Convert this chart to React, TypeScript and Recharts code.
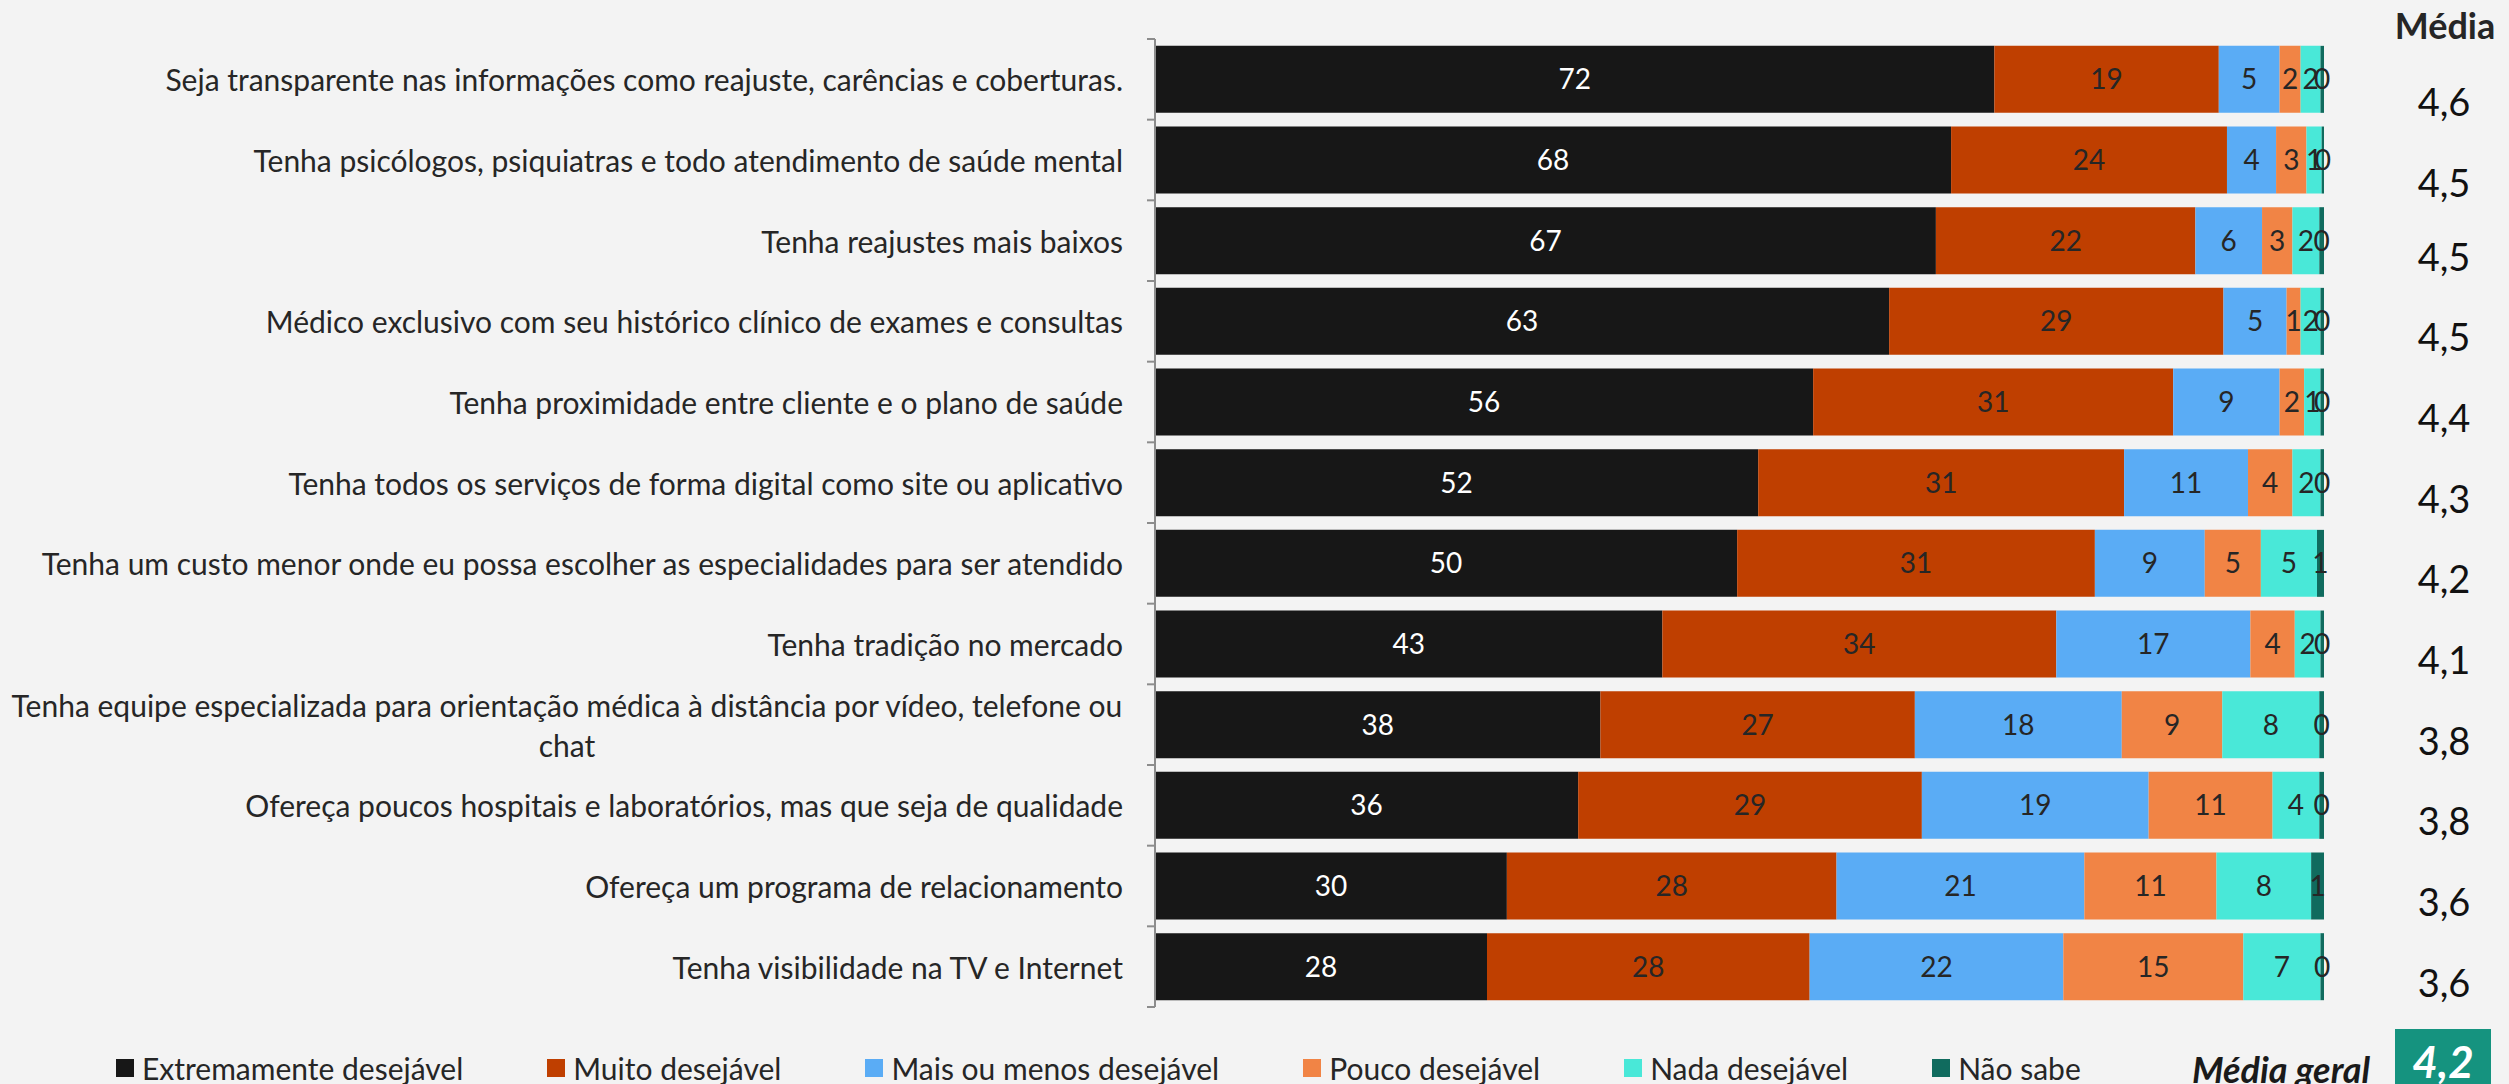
import { BarChart, Bar, XAxis, YAxis, Legend, LabelList } from 'recharts';

const CATEGORIES = [
  'Seja transparente nas informações como reajuste, carências e coberturas.',
  'Tenha psicólogos, psiquiatras e todo atendimento de saúde mental',
  'Tenha reajustes mais baixos',
  'Médico exclusivo com seu histórico clínico de exames e consultas',
  'Tenha proximidade entre cliente e o plano de saúde',
  'Tenha todos os serviços de forma digital como site ou aplicativo',
  'Tenha um custo menor onde eu possa escolher as especialidades para ser atendido',
  'Tenha tradição no mercado',
  'Tenha equipe especializada para orientação médica à distância por vídeo, telefone ou chat',
  'Ofereça poucos hospitais e laboratórios, mas que seja de qualidade',
  'Ofereça um programa de relacionamento',
  'Tenha visibilidade na TV e Internet',
];

const EXTREMAMENTE = [71.8, 68.1, 66.8, 62.8, 56.3, 51.6, 49.8, 43.4, 38.1, 36.2, 30.1, 28.4];
const MUITO = [19.2, 23.6, 22.2, 28.6, 30.8, 31.3, 30.6, 33.7, 26.9, 29.4, 28.2, 27.6];
const MAIS_OU_MENOS = [5.2, 4.2, 5.7, 5.4, 9.1, 10.6, 9.4, 16.6, 17.7, 19.4, 21.2, 21.7];
const POUCO = [1.8, 2.6, 2.6, 1.2, 2.1, 3.8, 4.8, 3.8, 8.6, 10.6, 11.3, 15.4];
const NADA = [1.7, 1.3, 2.3, 1.7, 1.4, 2.4, 4.8, 2.2, 8.3, 4.0, 8.1, 6.6];
const NAO_SABE = [0.3, 0.2, 0.4, 0.3, 0.3, 0.3, 0.6, 0.3, 0.4, 0.4, 1.1, 0.3];

const MEDIA = ['4,6', '4,5', '4,5', '4,5', '4,4', '4,3', '4,2', '4,1', '3,8', '3,8', '3,6', '3,6'];
const MEDIA_GERAL = '4,2';

const SERIES = [
  { key: 'ext', name: 'Extremamente desejável', color: '#171717', text: '#ffffff', values: EXTREMAMENTE },
  { key: 'muito', name: 'Muito desejável', color: '#bf3f00', text: '#262626', values: MUITO },
  { key: 'mais', name: 'Mais ou menos desejável', color: '#5aacf5', text: '#262626', values: MAIS_OU_MENOS },
  { key: 'pouco', name: 'Pouco desejável', color: '#f18445', text: '#262626', values: POUCO },
  { key: 'nada', name: 'Nada desejável', color: '#49e8d8', text: '#262626', values: NADA },
  { key: 'nao', name: 'Não sabe', color: '#106b5e', text: '#262626', values: NAO_SABE },
];

const data = CATEGORIES.map((name, i) => {
  const row: Record<string, any> = { name };
  SERIES.forEach((s) => (row[s.key] = s.values[i]));
  return row;
});

const FONT = 'Lato, "Open Sans", sans-serif';
const CAT_SIZE = 30;
const WRAP_W = 1125;

let ctx: CanvasRenderingContext2D | null = null;
const measure = (t: string) => {
  if (!ctx) ctx = document.createElement('canvas').getContext('2d');
  ctx!.font = `${CAT_SIZE}px Lato`;
  return ctx!.measureText(t).width;
};

// simple word wrap for the long category names
const wrap = (t: string) => {
  const words = t.split(' ');
  const lines: string[] = [];
  let cur = '';
  words.forEach((w) => {
    const next = cur ? cur + ' ' + w : w;
    if (cur && measure(next) > WRAP_W) {
      lines.push(cur);
      cur = w;
    } else cur = next;
  });
  if (cur) lines.push(cur);
  return lines;
};

const CategoryTick = (props: any) => {
  const { x, y, payload } = props;
  const off = payload.offset || 40.25;
  const lines = wrap(payload.value);
  const maxW = Math.max(...lines.map(measure));
  const tx = x - 32;
  const lineH = 40;
  return (
    <g>
      <line x1={x - 8} x2={x} y1={y - off} y2={y - off} stroke="#8c8c8c" strokeWidth={2} />
      {payload.index === CATEGORIES.length - 1 && (
        <line x1={x - 8} x2={x} y1={y + off} y2={y + off} stroke="#8c8c8c" strokeWidth={2} />
      )}
      {lines.map((ln, i) => (
        <text
          key={i}
          x={lines.length > 1 ? tx - maxW / 2 : tx}
          y={y + (i - (lines.length - 1) / 2) * lineH}
          textAnchor={lines.length > 1 ? 'middle' : 'end'}
          dominantBaseline="central"
          fontFamily={FONT}
          fontSize={CAT_SIZE}
          fill="#262626"
        >
          {ln}
        </text>
      ))}
    </g>
  );
};

const MediaTick = (props: any) => {
  const { x, y, payload } = props;
  const dy = payload.index < 2 ? 22 : 15;
  return (
    <text x={x + 120} y={y + dy} textAnchor="middle" dominantBaseline="central" fontFamily={FONT} fontSize={38} fill="#111">
      {MEDIA[payload.index]}
    </text>
  );
};

const LegendContent = () => (
  <div style={{ display: 'flex', alignItems: 'center', height: 40, paddingLeft: 116, paddingTop: 8, boxSizing: 'border-box', fontFamily: FONT, fontSize: 30, color: '#262626' }}>
    {SERIES.map((s) => (
      <div key={s.key} style={{ display: 'flex', alignItems: 'center', marginRight: 84 }}>
        <span style={{ width: 18, height: 18, background: s.color, marginRight: 8, display: 'inline-block' }} />
        <span>{s.name}</span>
      </div>
    ))}
  </div>
);

export default function App() {
  return (
    <div style={{ position: 'relative', width: 2509, height: 1084, background: '#f3f3f3', overflow: 'hidden' }}>
      <style>{`body{margin:0;background:#f3f3f3}`}</style>
      <BarChart
        width={2509}
        height={1084}
        data={data}
        layout="vertical"
        barCategoryGap="8.5%"
        margin={{ top: 39, right: 0, bottom: 37, left: 0 }}
      >
        <XAxis type="number" domain={[0, 100]} hide />
        <YAxis
          yAxisId="cat"
          type="category"
          dataKey="name"
          width={1155}
          tickLine={false}
          tickSize={0}
          tickMargin={0}
          axisLine={{ stroke: '#8c8c8c', strokeWidth: 2 }}
          tick={<CategoryTick />}
          interval={0}
        />
        <YAxis
          yAxisId="media"
          orientation="right"
          type="category"
          dataKey="name"
          width={185}
          tickLine={false}
          tickSize={0}
          tickMargin={0}
          axisLine={false}
          tick={<MediaTick />}
          interval={0}
        />
        <Legend verticalAlign="bottom" align="left" wrapperStyle={{ left: 0, bottom: 0 }} content={<LegendContent />} />
        {SERIES.map((s) => (
          <Bar key={s.key} yAxisId="cat" dataKey={s.key} name={s.name} stackId="a" fill={s.color} isAnimationActive={false}>
            <LabelList
              dataKey={s.key}
              position="center"
              formatter={(v: any) => Math.round(v)}
              fill={s.text}
              fontFamily={FONT}
              fontSize={28}
            />
          </Bar>
        ))}
      </BarChart>
      <div style={{ position: 'absolute', left: 2380, top: 0, width: 130, textAlign: 'center', fontFamily: FONT, fontWeight: 700, fontSize: 36, lineHeight: '50px', color: '#262626' }}>
        Média
      </div>
      <div style={{ position: 'absolute', left: 2160, top: 1044, width: 210, textAlign: 'right', fontFamily: FONT, fontWeight: 700, fontStyle: 'italic', fontSize: 36, lineHeight: '50px', color: '#1a1a1a' }}>
        Média geral
      </div>
      <div style={{ position: 'absolute', left: 2395, top: 1029, width: 96, height: 70, background: '#15937f', color: '#fff', textAlign: 'center', fontFamily: FONT, fontWeight: 700, fontStyle: 'italic', fontSize: 44, lineHeight: '64px' }}>
        {MEDIA_GERAL}
      </div>
    </div>
  );
}
